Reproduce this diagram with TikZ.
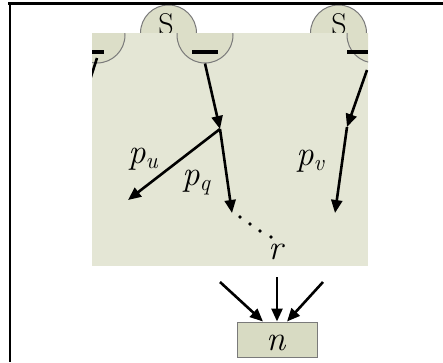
\documentclass[tikz,border=0pt]{standalone}
\usepackage{fontspec}
\setmainfont{Latin Modern Roman}
\usetikzlibrary{arrows.meta}
\definecolor{sage}{HTML}{DCDEC8}
\definecolor{bandfill}{HTML}{E4E6D5}
\definecolor{boxfill}{HTML}{D8DBC3}
\definecolor{rimgray}{HTML}{7A7A7A}
% italic letter with an italic subscript
\newcommand\pathlab[2]{\textit{#1}\raisebox{-5pt}{\fontsize{23}{24}\selectfont\textit{#2}}}
\begin{document}
\begin{tikzpicture}[x=1pt,y=-1pt,
  flow/.style={line width=2.6pt,-{Triangle[length=13pt,width=11pt]}},
  lbl/.style={font=\fontsize{35}{36}\selectfont, inner sep=0pt},
  stxt/.style={font=\fontsize{30}{32}\selectfont, inner sep=0pt},
  src/.style={circle, fill=sage, draw=rimgray, line width=1pt, minimum size=56pt, inner sep=0pt},
  bar/.style={fill=black},
  ]
\useasboundingbox (0,0) rectangle (443,362);

% source circles of the upper row
\node[src] (s1) at (168.5,33) {};
\node[src] (s2) at (338.5,33) {};
\node[stxt, anchor=base] (s1t) at (166,34) {S};
\node[stxt, anchor=base] (s2t) at (339,34) {S};

% shaded band
\fill[bandfill] (92,33) rectangle (368,266);

% lower row of circles, cut at the band edges
\begin{scope}
  \clip (92,33) rectangle (368,266);
  \node[src] (c1) at (97,35) {};
  \node[src] (c2) at (205,35) {};
  \node[src] (c3) at (375,35) {};
  \fill[bar] (92,50) rectangle (104,54);
  \fill[bar] (192,50) rectangle (218,54);
  \fill[bar] (347,50) rectangle (368,54);
  \coordinate (l0) at (97,58);
  \coordinate (l1) at (88,86);
  \draw[line width=2.6pt] (l0) -- (l1);
\end{scope}

% frame
\draw[line width=3pt] (8,3) -- (443,3);
\draw[line width=2.6pt] (10,2) -- (10,362);

% paths
\coordinate (j) at (220,129);
\coordinate (u) at (128,200);
\coordinate (q) at (232,213);
\coordinate (v0) at (367,70);
\coordinate (vm) at (347,127);
\coordinate (v) at (335,213);
\draw[flow] (c2.south) -- (j);
\draw[flow] (j) -- (u);
\draw[flow] (j) -- (q);
\draw[flow] (v0) -- (vm);
\draw[flow] (vm) -- (v);

% dotted continuation towards r
\foreach \px/\py in {240/217, 250/224, 260/231, 271/237}
  \fill (\px,\py) circle (1.8pt);

% labels
\node[lbl, anchor=base west] (pu) at (128,163) {\pathlab{p}{u}};
\node[lbl, anchor=base west] (pq) at (182,185) {\pathlab{p}{q}};
\node[lbl, anchor=base west] (pv) at (296,165) {\pathlab{p}{v}};
\node[lbl, anchor=base] (r) at (277,259) {\textit{r}};

% destination node
\node[draw=rimgray, fill=boxfill, line width=1pt, minimum width=80pt, minimum height=35pt, inner sep=0pt] (n) at (277,339.5) {};
\node[lbl, anchor=base] (nt) at (277,350) {\textit{n}};
\coordinate (i1) at (220,282);
\coordinate (i2) at (277,277);
\coordinate (i3) at (323,282);
\draw[flow] (i1) -- ([xshift=-14pt]n.north);
\draw[flow] (i2) -- (n.north);
\draw[flow] (i3) -- ([xshift=10pt]n.north);
\end{tikzpicture}
\end{document}
